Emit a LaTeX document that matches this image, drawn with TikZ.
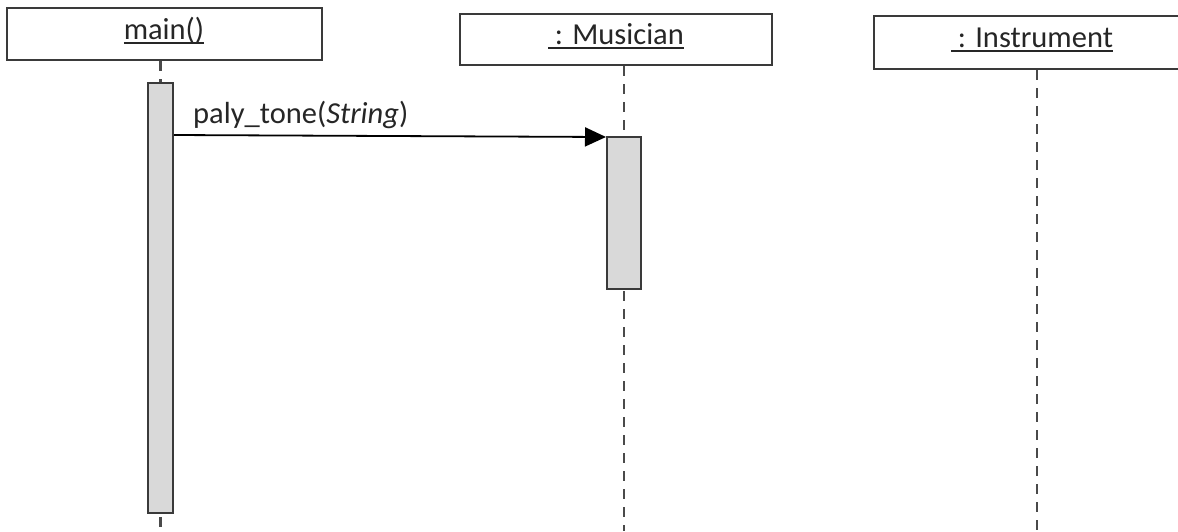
\documentclass[tikz,border=0pt]{standalone}
\usepackage{fontspec}
\setmainfont{Carlito}
\usetikzlibrary{arrows.meta}
\definecolor{boxline}{HTML}{3A3A3A}
\definecolor{lifeline}{HTML}{4A4A4A}
\definecolor{actfill}{HTML}{D9D9D9}
\definecolor{txt}{HTML}{262626}
\newcommand\myul[1]{\setbox0=\hbox{#1}\rlap{\rule[-5pt]{\wd0}{2.2pt}}\box0}
\begin{document}
\begin{tikzpicture}[x=1pt,y=-1pt,
  objbox/.style={draw=boxline, line width=2.2pt, fill=white, inner sep=0pt},
  actbar/.style={draw=boxline, fill=actfill, line width=2pt, inner sep=0pt},
  lifel/.style={draw=lifeline, line width=2.4pt, dash pattern=on 10pt off 8pt},
  msg/.style={-{Triangle[length=21pt,width=19pt]}, line width=1.8pt, black},
  lbl/.style={font=\fontsize{30.5}{36}\selectfont, text=txt, inner sep=0pt, anchor=base}]
\clip (0,0) rectangle (1178,531);
\fill[white] (0,0) rectangle (1178,531);
\coordinate (bot) at (0,531);
\coordinate (insll) at (1037,531);
% object boxes
\node[objbox, minimum width=315pt, minimum height=52pt] (main) at (164.5,34) {};
\node[objbox, minimum width=312pt, minimum height=51pt] (mus) at (616,39.5) {};
\node[objbox, minimum width=316pt, minimum height=53pt] (ins) at (1032,42.5) {};
\node[lbl] (mainlbl) at (164,39) {\myul{main()}};
\node[lbl] (muslbl) at (616,44) {\myul{\ : Musician}};
\node[lbl] (inslbl) at (1032,47) {\myul{\ : Instrument}};
% activation bars
\node[actbar, minimum width=25pt, minimum height=430pt] (mainact) at (160.5,298) {};
\node[actbar, minimum width=34pt, minimum height=152pt] (musact) at (624,213) {};
% lifelines
\draw[lifel] (mainact.north |- main.south) -- (mainact.north);
\draw[lifel] ([yshift=-3pt]mainact.south) -- (mainact.south |- bot);
\draw[lifel] (musact.north |- mus.south) -- (musact.north);
\draw[lifel] ([yshift=-1pt]musact.south) -- (musact.south |- bot);
\draw[lifel] (insll |- ins.south) -- (insll);
% message
\draw[msg] ([yshift=-53pt]mainact.north east) -- ([yshift=-1pt]musact.north west);
\node[lbl, anchor=base west] (msglbl) at (193,123) {paly\_tone(\textit{String})};
\end{tikzpicture}
\end{document}
